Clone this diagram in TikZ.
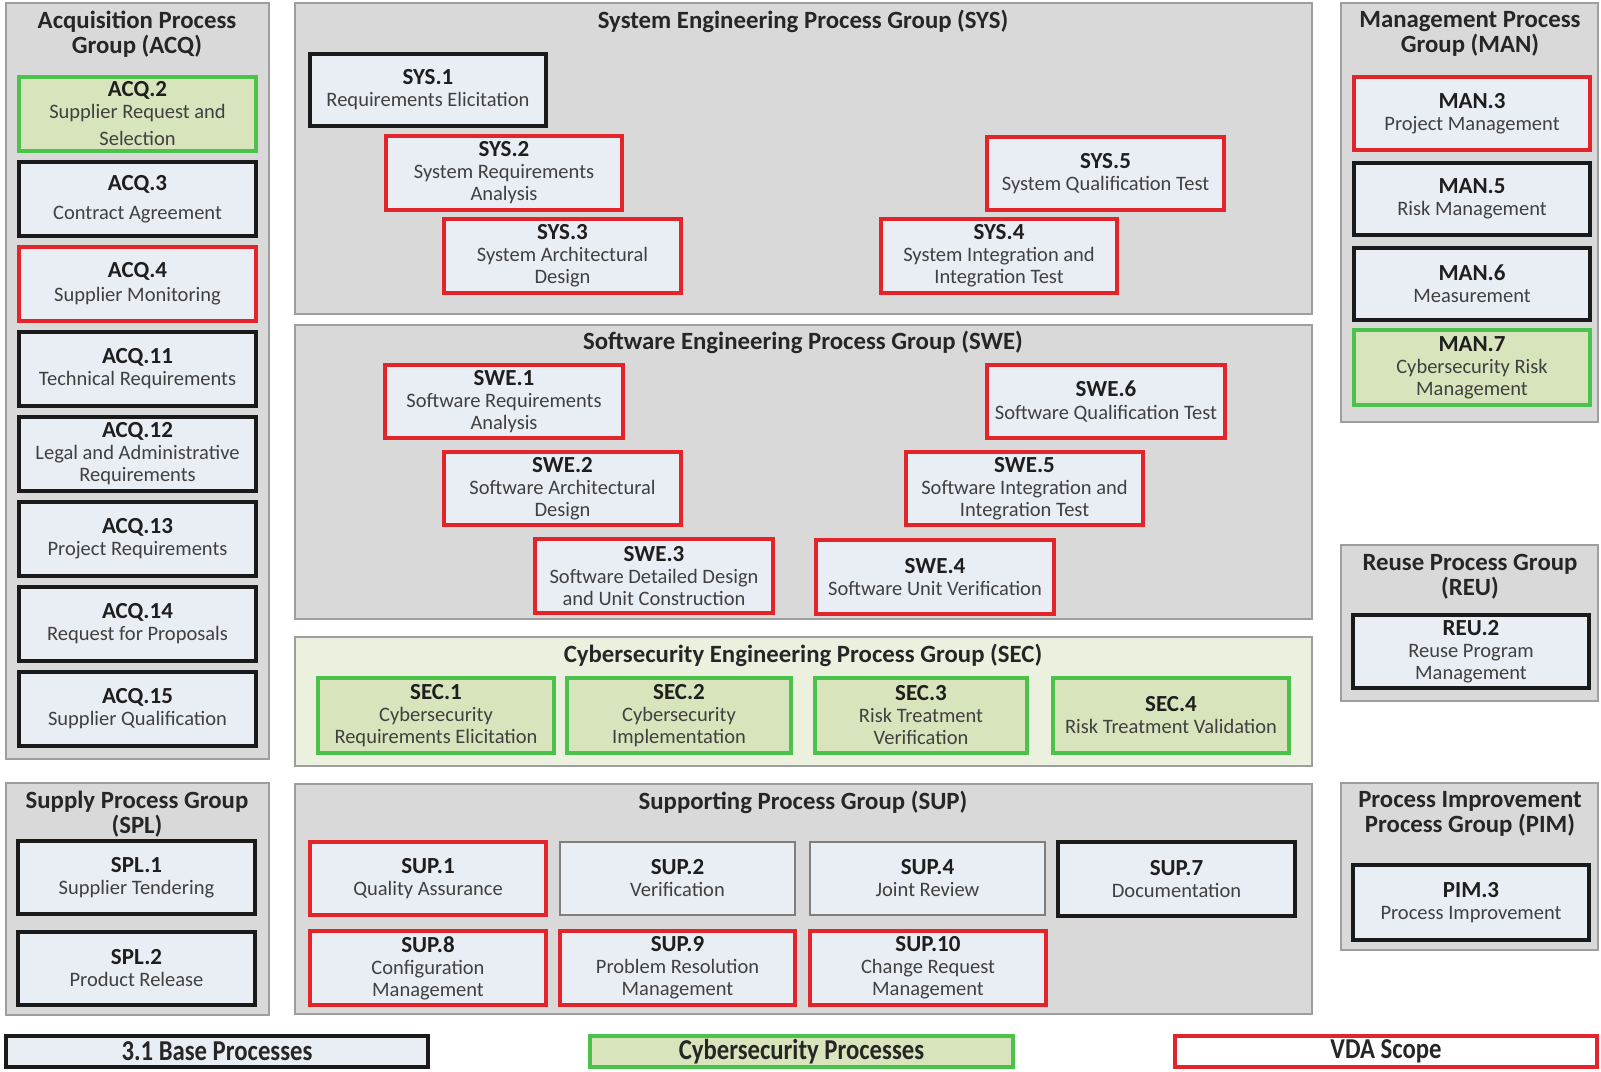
\documentclass[tikz,border=0pt]{standalone}
\usepackage{fontspec}
\setmainfont{Carlito}
\usepackage{graphicx}
\definecolor{grpfill}{HTML}{D9D9D9}
\definecolor{grpline}{HTML}{9E9E9E}
\definecolor{boxfill}{HTML}{E9EDF4}
\definecolor{cybfill}{HTML}{D8E4BC}
\definecolor{secfill}{HTML}{EBF1DE}
\definecolor{grnline}{HTML}{4BC24B}
\definecolor{redline}{HTML}{E3242B}
\definecolor{blkline}{HTML}{1A1A1A}
\definecolor{thinline}{HTML}{7F7F7F}
\definecolor{idcol}{HTML}{1E1E1E}
\definecolor{desccol}{HTML}{404040}
\definecolor{titlecol}{HTML}{262626}
\newcommand\descf{\fontsize{20.5}{22}\selectfont}
\newcommand\idf{\fontsize{23}{22}\selectfont\bfseries\color{idcol}}
\newcommand\ttlf{\fontsize{24.8}{25}\selectfont\bfseries}
\newcommand\procbox[8]{%
  \node[#2, minimum width={(#5-#3-4)*1pt}, minimum height={(#6-#4-4)*1pt}]
    (#1) at ({(#3+#5)/2},{(#4+#6)/2}) {{\idf #7}\\#8};}
\newcommand\grpbox[6]{%
  \node[#2, minimum width={(#5-#3-2)*1pt}, minimum height={(#6-#4-2)*1pt}]
    (#1) at ({(#3+#5)/2},{(#4+#6)/2}) {};}
\tikzset{
  grp/.style={rectangle, draw=grpline, fill=grpfill, line width=2pt, inner sep=0pt},
  secgrp/.style={grp, fill=secfill},
  ttl/.style={align=center, font=\ttlf, text=titlecol, inner sep=0pt},
  pbox/.style={rectangle, align=center, fill=boxfill, line width=4pt, inner sep=0pt,
    font=\descf, text=desccol},
  blkbox/.style={pbox, draw=blkline},
  redbox/.style={pbox, draw=redline},
  grnbox/.style={pbox, draw=grnline, fill=cybfill},
  thinbox/.style={pbox, draw=thinline, line width=2pt},
  legbox/.style={rectangle, line width=4pt, inner sep=0pt, font=\fontsize{24}{24}\selectfont\bfseries, text=titlecol}
}
\begin{document}
\begin{tikzpicture}[x=1pt,y=-1pt]
\useasboundingbox (0,0) rectangle (1601,1071);
\fill[white] (0,0) rectangle (1601,1071);
% groups
\grpbox{gACQ}{grp}{5}{2}{270}{760}
\grpbox{gSPL}{grp}{5}{782}{270}{1016}
\grpbox{gSYS}{grp}{294}{2}{1313}{315}
\grpbox{gSWE}{grp}{294}{324}{1313}{620}
\grpbox{gSEC}{secgrp}{294}{636}{1313}{767}
\grpbox{gSUP}{grp}{294}{783}{1313}{1015}
\grpbox{gMAN}{grp}{1340}{2}{1599}{423}
\grpbox{gREU}{grp}{1340}{544}{1599}{702}
\grpbox{gPIM}{grp}{1340}{782}{1599}{951}
% titles
\node[ttl] (tACQ) at (137,34) {Acquisition Process\\Group (ACQ)};
\node[ttl] (tSPL) at (137,814) {Supply Process Group\\(SPL)};
\node[ttl] (tSYS) at (803,21) {System Engineering Process Group (SYS)};
\node[ttl] (tSWE) at (803,342) {Software Engineering Process Group (SWE)};
\node[ttl] (tSEC) at (803,655) {Cybersecurity Engineering Process Group (SEC)};
\node[ttl] (tSUP) at (803,802) {Supporting Process Group (SUP)};
\node[ttl] (tMAN) at (1470,34) {Management Process\\Group (MAN)};
\node[ttl] (tREU) at (1470,577) {Reuse Process Group\\(REU)};
\node[ttl] (tPIM) at (1470,814) {Process Improvement\\Process Group (PIM)};
% ACQ
\procbox{acq2}{grnbox}{17}{75}{258}{153}{ACQ.2}{Supplier Request and\\[5pt]Selection}
\procbox{acq3}{blkbox}{17}{160}{258}{238}{ACQ.3}{[7pt]Contract Agreement}
\procbox{acq4}{redbox}{17}{245}{258}{323}{ACQ.4}{[2pt]Supplier Monitoring}
\procbox{acq11}{blkbox}{17}{330}{258}{408}{ACQ.11}{Technical Requirements}
\procbox{acq12}{blkbox}{17}{415}{258}{493}{ACQ.12}{Legal and Administrative\\Requirements}
\procbox{acq13}{blkbox}{17}{500}{258}{578}{ACQ.13}{Project Requirements}
\procbox{acq14}{blkbox}{17}{585}{258}{663}{ACQ.14}{Request for Proposals}
\procbox{acq15}{blkbox}{17}{670}{258}{748}{ACQ.15}{Supplier Qualification}
% SPL
\procbox{spl1}{blkbox}{16}{839}{257}{916}{SPL.1}{Supplier Tendering}
\procbox{spl2}{blkbox}{16}{930}{257}{1007}{SPL.2}{Product Release}
% SYS
\procbox{sys1}{blkbox}{308}{52}{548}{128}{SYS.1}{Requirements Elicitation}
\procbox{sys2}{redbox}{384}{134}{624}{212}{SYS.2}{System Requirements\\Analysis}
\procbox{sys3}{redbox}{442}{217}{683}{295}{SYS.3}{System Architectural\\Design}
\procbox{sys5}{redbox}{985}{135}{1226}{212}{SYS.5}{System Qualification Test}
\procbox{sys4}{redbox}{879}{217}{1119}{295}{SYS.4}{System Integration and\\Integration Test}
% SWE
\procbox{swe1}{redbox}{383}{363}{625}{440}{SWE.1}{Software Requirements\\Analysis}
\procbox{swe6}{redbox}{985}{363}{1227}{440}{SWE.6}{Software Qualification Test}
\procbox{swe2}{redbox}{442}{450}{683}{527}{SWE.2}{Software Architectural\\Design}
\procbox{swe5}{redbox}{904}{450}{1145}{527}{SWE.5}{Software Integration and\\Integration Test}
\procbox{swe3}{redbox}{533}{537}{775}{615}{SWE.3}{Software Detailed Design\\and Unit Construction}
\procbox{swe4}{redbox}{814}{538}{1056}{616}{SWE.4}{Software Unit Verification}
% SEC
\procbox{sec1}{grnbox}{316}{676}{556}{755}{SEC.1}{Cybersecurity\\Requirements Elicitation}
\procbox{sec2}{grnbox}{565}{676}{793}{755}{SEC.2}{Cybersecurity\\Implementation}
\procbox{sec3}{grnbox}{813}{676}{1029}{755}{SEC.3}{Risk Treatment\\Verification}
\procbox{sec4}{grnbox}{1051}{676}{1291}{755}{SEC.4}{Risk Treatment Validation}
% SUP
\procbox{sup1}{redbox}{308}{840}{548}{917}{SUP.1}{Quality Assurance}
\procbox{sup2}{thinbox}{558}{840}{797}{917}{SUP.2}{Verification}
\procbox{sup4}{thinbox}{808}{840}{1047}{917}{SUP.4}{Joint Review}
\procbox{sup7}{blkbox}{1056}{840}{1297}{918}{SUP.7}{Documentation}
\procbox{sup8}{redbox}{308}{929}{548}{1007}{SUP.8}{Configuration\\Management}
\procbox{sup9}{redbox}{558}{929}{797}{1007}{SUP.9}{Problem Resolution\\Management}
\procbox{sup10}{redbox}{808}{929}{1048}{1007}{SUP.10}{Change Request\\Management}
% MAN
\procbox{man3}{redbox}{1352}{75}{1592}{152}{MAN.3}{Project Management}
\procbox{man5}{blkbox}{1352}{161}{1592}{237}{MAN.5}{Risk Management}
\procbox{man6}{blkbox}{1352}{246}{1592}{322}{MAN.6}{Measurement}
\procbox{man7}{grnbox}{1352}{328}{1592}{407}{MAN.7}{Cybersecurity Risk\\Management}
% REU, PIM
\procbox{reu2}{blkbox}{1351}{613}{1591}{690}{REU.2}{Reuse Program\\Management}
\procbox{pim3}{blkbox}{1351}{863}{1591}{942}{PIM.3}{Process Improvement}
% legend
\node[legbox, draw=blkline, fill=boxfill, minimum width=422pt, minimum height=31pt] (legBase) at (217,1051.5) {\scalebox{1.03}[1.2]{3.1 Base Processes}};
\node[legbox, draw=grnline, fill=cybfill, minimum width=423pt, minimum height=31pt] (legCyb) at (801.5,1051.5) {\scalebox{1.03}[1.2]{Cybersecurity Processes}};
\node[legbox, draw=redline, fill=white, minimum width=422pt, minimum height=31pt] (legVDA) at (1386,1051.5) {\scalebox{1.03}[1.2]{VDA Scope}};
\end{tikzpicture}
\end{document}
